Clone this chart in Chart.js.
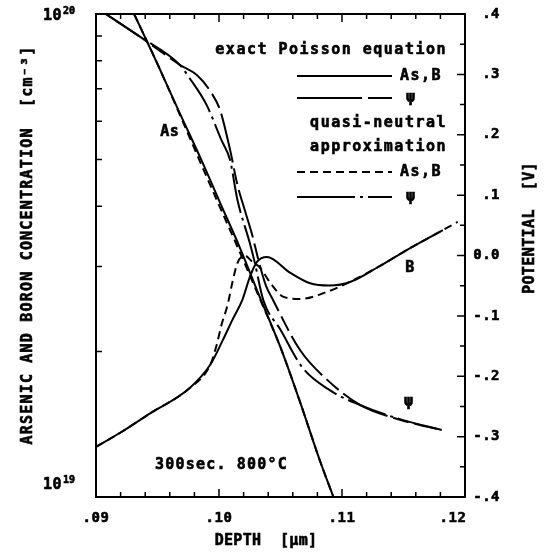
<!DOCTYPE html>
<html>
<head>
<meta charset="utf-8">
<script src="https://cdn.jsdelivr.net/npm/chart.js@4.4.1/dist/chart.umd.min.js"></script>
<style>
html, body { margin: 0; padding: 0; background: #fff; }
</style>
</head>
<body>
<canvas id="myChart" width="546" height="558"></canvas>
<script>
/*------- Datos -----*/
// Arsenico (cm^-3) frente a profundidad (um)
const asDepth = [0.0931, 0.0950, 0.0968, 0.0985, 0.1001, 0.1017, 0.1033, 0.1050, 0.1066, 0.1082, 0.1093];
const asExact = [1.00e20, 7.88e19, 6.24e19, 5.03e19, 4.06e19, 3.28e19, 2.60e19, 2.04e19, 1.57e19, 1.19e19, 1.00e19];
const asQuasi = [1.00e20, 7.88e19, 6.20e19, 4.92e19, 3.97e19, 3.21e19, 2.58e19, 2.04e19, 1.57e19, 1.19e19, 1.00e19];

// Boro, ecuacion de Poisson exacta
const bDepth = [0.0900, 0.0920, 0.0944, 0.0976, 0.0993, 0.1003, 0.1011, 0.1019, 0.1025, 0.1031, 0.1039, 0.1058, 0.1074, 0.1090, 0.1107, 0.1129, 0.1153, 0.1182];
const bExact = [1.27e19, 1.36e19, 1.49e19, 1.68e19, 1.88e19, 2.11e19, 2.33e19, 2.56e19, 2.85e19, 3.07e19, 3.14e19, 2.91e19, 2.77e19, 2.74e19, 2.79e19, 2.99e19, 3.25e19, 3.57e19];

// Boro, aproximacion cuasi-neutral
const bqDepth = [0.0900, 0.0920, 0.0944, 0.0976, 0.0993, 0.0998, 0.1002, 0.1007, 0.1011, 0.1015, 0.1021, 0.1027, 0.1033, 0.1042, 0.1052, 0.1066, 0.1088, 0.1104, 0.1129, 0.1153, 0.1182, 0.1194];
const bQuasi = [1.27e19, 1.36e19, 1.49e19, 1.68e19, 1.88e19, 2.06e19, 2.27e19, 2.50e19, 2.79e19, 3.05e19, 3.16e19, 3.07e19, 2.99e19, 2.77e19, 2.60e19, 2.57e19, 2.66e19, 2.77e19, 2.99e19, 3.25e19, 3.57e19, 3.71e19];

// Potencial (V)
const psiDepth = [0.0908, 0.0936, 0.0968, 0.0982, 0.0993, 0.1001, 0.1009, 0.1015, 0.1021, 0.1027, 0.1032, 0.1038, 0.1044, 0.1066, 0.1088, 0.1115, 0.1147, 0.1181];
const psiExact = [0.400, 0.362, 0.316, 0.299, 0.272, 0.240, 0.175, 0.117, 0.075, 0.034, -0.007, -0.049, -0.074, -0.157, -0.206, -0.248, -0.272, -0.289];
const psiqDepth = [0.0908, 0.0936, 0.0968, 0.0976, 0.0990, 0.1002, 0.1009, 0.1015, 0.1025, 0.1029, 0.1036, 0.1050, 0.1068, 0.1090, 0.1115, 0.1147, 0.1181];
const psiQuasi = [0.400, 0.362, 0.316, 0.294, 0.249, 0.191, 0.158, 0.092, 0.021, -0.011, -0.074, -0.123, -0.186, -0.223, -0.248, -0.271, -0.289];

// Etiquetas de los ejes
const xTickValues = [0.09, 0.10, 0.11, 0.12];
const xTickLabels = ['.09', '.10', '.11', '.12'];
const yTickValues = [1e19, 1e20];
const yTickExp = ['19', '20'];
const vTickValues = [0.4, 0.3, 0.2, 0.1, 0.0, -0.1, -0.2, -0.3, -0.4];
const vTickLabels = ['.4', '.3', '.2', '.1', '0.0', '-.1', '-.2', '-.3', '-.4'];

// Estilos de linea (curvas y leyenda)
const dashExact = [];
const dashPsiExact = [50, 6, 16, 6];
const dashQuasi = [8, 5];
const dashPsiQuasi = [40, 5, 3, 5];
const legPsiExact = [65, 6, 24, 100];
const legPsiQuasi = [58, 5, 3, 5, 27, 100];

const FONT = '"DejaVu Sans Mono", monospace';

function pts(xs, ys) {
    return xs.map((x, i) => ({ x: x, y: ys[i] }));
}

function serie(xs, ys, dash, axis) {
    return {
        data: pts(xs, ys),
        yAxisID: axis,
        borderColor: '#000',
        borderWidth: 2,
        borderDash: dash,
        pointRadius: 0,
        fill: false,
        showLine: true,
        cubicInterpolationMode: 'monotone'
    };
}

// texto de trazador: negrita con un poco de contorno
function txt(ctx, s, x, y, size, align, spacing) {
    ctx.font = 'bold ' + size + 'px ' + FONT;
    ctx.letterSpacing = (spacing || 0) + 'px';
    ctx.textAlign = align || 'left';
    ctx.lineWidth = 0.6;
    ctx.setLineDash([]);
    ctx.fillText(s, x, y);
    ctx.strokeText(s, x, y);
}

// Marco, marcas, textos y leyenda
const decoracion = {
    id: 'decoracion',
    afterDatasetsDraw(chart) {
        const ctx = chart.ctx;
        const a = chart.chartArea;
        const sx = chart.scales.x, sy = chart.scales.y, sv = chart.scales.y2;
        ctx.save();
        ctx.strokeStyle = '#000';
        ctx.fillStyle = '#000';
        ctx.setLineDash([]);
        ctx.lineWidth = 2;
        ctx.strokeRect(a.left, a.top, a.right - a.left, a.bottom - a.top);

        // marcas hacia dentro
        ctx.lineWidth = 1.5;
        ctx.beginPath();
        for (let i = 0; i <= 15; i++) {
            const px = sx.getPixelForValue(0.09 + i * 0.002);
            const len = (i % 5 === 0) ? 8 : 5;
            ctx.moveTo(px, a.bottom); ctx.lineTo(px, a.bottom - len);
            ctx.moveTo(px, a.top); ctx.lineTo(px, a.top + len);
        }
        for (let m = 2; m <= 9; m++) {
            const py = sy.getPixelForValue(m * 1e19);
            ctx.moveTo(a.left, py); ctx.lineTo(a.left + 6, py);
        }
        for (let i = 0; i <= 16; i++) {
            const py = sv.getPixelForValue(-0.4 + i * 0.05);
            const len = (i % 2 === 0) ? 8 : 5;
            ctx.moveTo(a.right, py); ctx.lineTo(a.right - len, py);
        }
        ctx.stroke();

        // etiquetas de las marcas
        ctx.textBaseline = 'middle';
        xTickValues.forEach((v, i) => {
            let px = sx.getPixelForValue(v);
            if (i === xTickValues.length - 1) px -= 12;
            txt(ctx, xTickLabels[i], px, a.bottom + 21, 14, 'center', 0.5);
        });
        vTickValues.forEach((v, i) => {
            txt(ctx, vTickLabels[i], 500, sv.getPixelForValue(v), 14, 'right', 0.5);
        });
        ctx.textBaseline = 'alphabetic';
        yTickValues.forEach((v, i) => {
            const py = sy.getPixelForValue(v) + (v === sy.max ? 6 : -8);
            txt(ctx, '10', 62, py, 15, 'right', 0.5);
            txt(ctx, yTickExp[i], 63, py - 6, 10, 'left', 0);
        });

        // titulos de los ejes
        ctx.textBaseline = 'middle';
        txt(ctx, 'DEPTH  [\u00b5m]', 266, 541, 15, 'center', 0.3);
        ctx.save();
        ctx.translate(28, 245);
        ctx.rotate(-Math.PI / 2);
        txt(ctx, 'ARSENIC AND BORON CONCENTRATION  [cm\u207b\u00b3]', 0, 0, 15, 'center', 1.2);
        ctx.restore();
        ctx.save();
        ctx.translate(530, 228);
        ctx.rotate(-Math.PI / 2);
        txt(ctx, 'POTENTIAL  [V]', 0, 0, 15, 'center', 0.4);
        ctx.restore();

        // leyenda
        txt(ctx, 'exact Poisson equation', 447, 50, 15, 'right', 1.5);
        txt(ctx, 'quasi-neutral', 447, 123, 15, 'right', 1.5);
        txt(ctx, 'approximation', 447, 147, 15, 'right', 1.5);
        const filas = [
            [76, dashExact, 'As,B'],
            [98, legPsiExact, '\u03c8'],
            [172, dashQuasi, 'As,B'],
            [197, legPsiQuasi, '\u03c8']
        ];
        filas.forEach(f => {
            ctx.lineWidth = 2;
            ctx.setLineDash(f[1]);
            ctx.beginPath();
            ctx.moveTo(297, f[0]); ctx.lineTo(392, f[0]);
            ctx.stroke();
            txt(ctx, f[2], f[2] === 'As,B' ? 400 : 406, f[0], 15, 'left', 1.5);
        });

        // rotulos sobre las curvas
        txt(ctx, 'As', sx.getPixelForValue(0.0960), sy.getPixelForValue(5.7e19), 15, 'center', 0.5);
        txt(ctx, 'B', sx.getPixelForValue(0.1155), sy.getPixelForValue(2.98e19), 15, 'center', 0);
        txt(ctx, '\u03c8', sx.getPixelForValue(0.1154), sv.getPixelForValue(-0.243), 15, 'center', 0);
        txt(ctx, '300sec. 800\u00b0C', 155, 465, 15, 'left', 1.2);
        ctx.restore();
    }
};

var ctx = document.getElementById('myChart').getContext('2d');
var myChart = new Chart(ctx, {
    type: 'scatter',
    data: {
        datasets: [
            serie(asDepth, asExact, dashExact, 'y'),
            serie(asDepth, asQuasi, dashQuasi, 'y'),
            serie(bDepth, bExact, dashExact, 'y'),
            serie(bqDepth, bQuasi, dashQuasi, 'y'),
            serie(psiDepth, psiExact, dashPsiExact, 'y2'),
            serie(psiqDepth, psiQuasi, dashPsiQuasi, 'y2')
        ]
    },
    options: {
        responsive: false,
        animation: false,
        layout: { padding: { left: 96, right: 81, top: 14, bottom: 61 } },
        scales: {
            x: { type: 'linear', min: 0.09, max: 0.12, display: false },
            y: { type: 'logarithmic', min: 1e19, max: 1e20, display: false },
            y2: { type: 'linear', position: 'right', min: -0.4, max: 0.4, display: false }
        },
        plugins: {
            legend: { display: false },
            tooltip: { enabled: false }
        }
    },
    plugins: [decoracion]
});
</script>
</body>
</html>
